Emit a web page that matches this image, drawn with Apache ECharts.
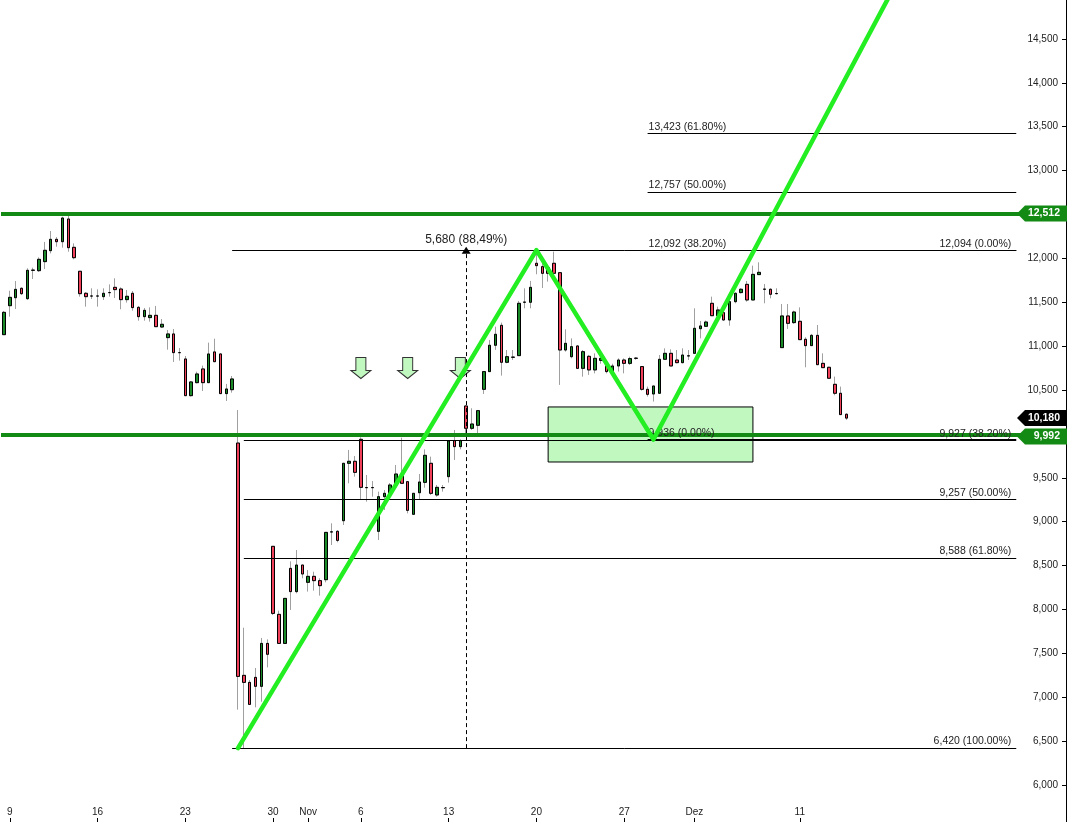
<!DOCTYPE html>
<html><head><meta charset="utf-8">
<script src="https://cdn.jsdelivr.net/npm/echarts@6/dist/echarts.min.js"></script>
<style>html,body{margin:0;padding:0;background:#fff}#c{width:1067px;height:822px}</style>
</head><body><div id="c"></div>
<script>
// ---- candle values (3 candles per trading day, first = last candle of Oct 6) ----
const openV = [11131,11461,11552,11659,11541,11864,11860,11963,12088,12217,12190,12449,12126,11853,11602,11571,11571,11564,11610,11670,
11651,11530,11602,11442,11336,11325,11351,11218,11097,11139,10926,10854,10436,10584,10740,10584,10934,10911,10459,10504,
9896,7249,7169,7226,7124,7613,8719,7944,7613,8468,8203,8506,8309,8377,8328,8339,8882,8890,9011,9665,
9688,9938,9387,9387,8890,9285,9323,9418,9520,9456,9084,9330,9448,9665,9304,9387,9513,9923,9855,10318,
10064,10098,10508,10710,11010,11237,10816,10873,10892,11500,11500,11944,11906,11894,11944,11837,10956,10880,11002,10747,
10884,10729,10838,10774,10705,10774,10842,10804,10861,10767,10508,10455,10463,10850,10918,10842,10812,10888,10918,11199,
11226,11488,11347,11382,11298,11507,11610,11704,11526,11815,11648,11648,11598,10983,11344,11268,11283,11078,11006,11123,
10804,10759,10565,10463,10224];
const highV = [11401,11632,11742,11670,11887,11894,12012,12187,12312,12243,12475,12487,12171,11853,11617,11659,11647,11659,11704,11773,
11670,11640,11628,11458,11435,11442,11458,11309,11184,11195,10979,10888,10603,10709,10778,11040,11085,10918,10569,10660,
10272,7792,7196,7333,7675,7659,8719,7986,8126,8548,8677,8506,8449,8430,8355,8878,8981,8905,9665,9817,
9748,9961,9532,9463,9342,9361,9440,9646,9957,9456,9323,9543,9824,9741,9418,9418,9919,10045,9938,10330,
10292,10273,10710,11070,11222,11268,10956,10956,11515,11659,11743,12094,11951,11905,12077,11837,11192,11089,11013,10956,
10900,10918,10900,10790,10800,10861,10861,10880,10875,10774,10539,10546,10899,10975,10964,10956,10975,10956,11431,11287,
11291,11564,11450,11390,11526,11613,11660,11742,11917,11955,11708,11659,11659,11480,11480,11404,11442,11101,11139,11241,
10918,10765,10653,10539,10235];
const lowV = [11131,11336,11423,11583,11526,11765,11845,11879,12057,12133,12122,12076,11989,11564,11450,11537,11450,11526,11564,11549,
11420,11496,11404,11290,11290,11279,11222,11207,10960,10820,10835,10436,10425,10576,10489,10584,10823,10459,10375,10470,
6858,6420,6918,6885,6949,7340,7936,7613,7613,7994,8184,8355,8203,8214,8157,8309,8734,8765,8962,9437,
9513,9247,9228,9285,8791,9133,9300,9391,9437,9095,9076,9254,9387,9304,9285,9342,9445,9703,9824,10007,
10045,10007,10455,10710,10957,10664,10805,10843,10892,11431,11431,11819,11662,11735,11792,10558,10937,10861,10747,10652,
10672,10690,10800,10690,10680,10710,10690,10785,10845,10493,10425,10368,10463,10850,10774,10804,10804,10842,10918,11089,
11222,11347,11336,11290,11233,11488,11600,11507,11526,11815,11488,11545,11590,10983,11196,11253,11074,10759,11006,10789,
10755,10626,10440,10220,10159];
const closeV = [11385,11556,11647,11598,11864,11866,11989,12092,12217,12190,12460,12122,12008,11598,11564,11571,11571,11602,11610,11644,
11530,11568,11439,11336,11408,11351,11222,11249,11139,10926,10926,10436,10592,10683,10584,10911,10823,10459,10512,10626,
7237,7169,6918,7124,7613,7489,7955,7613,8126,8203,8506,8404,8377,8328,8271,8878,8884,8787,9665,9688,
9562,9391,9389,9389,9285,9323,9418,9543,9437,9129,9323,9452,9756,9323,9391,9389,9919,9855,9923,10064,
10113,10265,10710,11010,11135,10816,10880,10875,11488,11502,11670,11917,11830,11830,11830,10956,11032,10994,10747,10937,
10729,10861,10861,10710,10774,10842,10804,10858,10863,10508,10451,10546,10850,10918,10774,10812,10899,10890,11203,11230,
11275,11347,11412,11298,11507,11602,11648,11526,11818,11841,11650,11591,11600,11344,11260,11389,11074,11006,11123,10789,
10755,10634,10463,10220,10180];

// ---- axes ----
const yTicks = [6000,6500,7000,7500,8000,8500,9000,9500,10000,10500,11000,11500,12000,12500,13000,13500,14000,14500];
const tickDates = ['2023-10-09','2023-10-16','2023-10-23','2023-10-30','2023-11-01','2023-11-06','2023-11-13','2023-11-20','2023-11-27','2023-12-01','2023-12-11'];
const tickLabels = ['9','16','23','30','Nov','6','13','20','27','Dez','11'];
const yMin = 5578, yMax = 14944;
const totalSlots = 182;

// ---- drawings ----
const supportLevels = [12512, 9992];
const lastPrice = 10180;
const fibAValues = [12094, 9927, 9257, 8588, 6420];
const fibAPct = ['0.00%', '38.20%', '50.00%', '61.80%', '100.00%'];
const fibAStart = [39, 41, 41, 41, 39];
const fibBValues = [9936, 12092, 12757, 13423];
const fibBPct = ['0.00%', '38.20%', '50.00%', '61.80%'];
const fibBStart = 110;
const fibEnd = 173;
const zigzagX = [40, 91, 111, 155];
const zigzagY = [6420, 12094, 9936, 15451];
const arrowX = [61, 69, 78];
const arrowY = 10751;
const boxX = [93, 128];
const boxY = [10307, 9680];
const measureX = 79;
const measureFrom = 6420, measureTo = 12094;
const measureLabel = '5,680 (88,49%)';

// ---- categories: trading days, 3 slots each ----
function fmtD(d){return d.toISOString().slice(0,10);}
const categories = [];
let d = new Date(Date.UTC(2023,9,6));
categories.push(fmtD(d)+'#3');
while (categories.length < totalSlots) {
  d = new Date(d.getTime()+86400000);
  const wd = d.getUTCDay();
  if (wd===0 || wd===6) continue;
  for (let s=1; s<=3 && categories.length<totalSlots; s++) categories.push(fmtD(d)+'#'+s);
}
function isTick(idx, val){
  const [dt, s] = String(val).split('#');
  return s==='1' && tickDates.indexOf(dt) >= 0;
}
function tickLabel(val){
  const [dt, s] = String(val).split('#');
  const k = tickDates.indexOf(dt);
  return (s==='1' && k>=0) ? tickLabels[k] : '';
}
const fmtN = v => Number(v).toLocaleString('en-US');
const FONT = '"Liberation Sans", Arial, sans-serif';

const wickData = openV.map((o,i)=>[o, closeV[i], lowV[i], highV[i]]);
const bodyData = openV.map((o,i)=>[o, closeV[i], Math.min(o,closeV[i]), Math.max(o,closeV[i])]);

const fibLines = [];
fibAValues.forEach((v,i)=>{
  fibLines.push([
    {coord:[fibAStart[i], v], label:{show:true, position:'insideEndTop', distance:[5,1], formatter: fmtN(v)+' ('+fibAPct[i]+')'}},
    {coord:[fibEnd, v]}
  ]);
});
fibBValues.forEach((v,i)=>{
  fibLines.push([
    {coord:[fibBStart, v], label:{show:true, position:'insideStartTop', distance:[1,1], formatter: fmtN(v)+' ('+fibBPct[i]+')'}},
    {coord:[fibEnd, v]}
  ]);
});
fibLines.push([
  {coord:[measureX, measureFrom], symbol:'none', lineStyle:{type:[4,3], color:'#000', width:1},
   label:{show:true, position:'end', formatter: measureLabel, fontSize:12, distance:4}},
  {coord:[measureX, measureTo], symbol:'triangle', symbolSize:[9,7]}
]);

const tagVals = [supportLevels[0], lastPrice, supportLevels[1]];
const tagCols = ['#138a13', '#000000', '#138a13'];
const tagShift = [0, 0, 2];

const chart = echarts.init(document.getElementById('c'), null, {renderer:'canvas'});
chart.setOption({
  animation:false,
  backgroundColor:'#ffffff',
  grid:{left:1, right:1, top:0, bottom:0, containLabel:false},
  xAxis:{
    type:'category', data:categories, boundaryGap:true,
    axisLine:{show:false},
    axisTick:{show:true, inside:true, length:4, alignWithLabel:true, interval:isTick, lineStyle:{color:'#000'}},
    axisLabel:{inside:true, margin:5, interval:isTick, formatter:tickLabel, color:'#222', fontSize:10, fontFamily:FONT},
    splitLine:{show:false}
  },
  yAxis:{
    type:'value', position:'right', min:yMin, max:yMax,
    axisLine:{show:true, lineStyle:{color:'#000', width:1}},
    axisTick:{show:true, inside:true, length:4, customValues:yTicks, lineStyle:{color:'#000'}},
    axisLabel:{inside:true, margin:8, customValues:yTicks, formatter:fmtN, color:'#222', fontSize:10, fontFamily:FONT},
    splitLine:{show:false}
  },
  series:[
    {
      type:'candlestick', name:'wick', data:wickData, barWidth:3, z:2, silent:true,
      itemStyle:{color:'#a0a0a0', color0:'#a0a0a0', borderColor:'#a0a0a0', borderColor0:'#a0a0a0', borderWidth:1},
      markArea:{silent:true, itemStyle:{color:'#c0f8c0', borderColor:'#000', borderWidth:1, opacity:1},
        data:[[{coord:[boxX[0], boxY[0]]},{coord:[boxX[1], boxY[1]]}]]}
    },
    {
      type:'candlestick', name:'body', data:bodyData, barWidth:3, z:3, silent:true,
      itemStyle:{color:'#1a8a28', color0:'#f0405a', borderColor:'#000', borderColor0:'#000', borderWidth:1}
    },
    {
      type:'scatter', name:'arrows', z:4, silent:true,
      data: arrowX.map(x=>[x, arrowY]),
      symbol:'path://M5,0 L15,0 L15,13 L20,13 L10,21 L0,13 L5,13 Z', symbolSize:[20,21],
      itemStyle:{color:'#c0f8c0', borderColor:'#333', borderWidth:1, opacity:1},
      markLine:{silent:true, symbol:['none','none'], lineStyle:{color:'#000', width:1, type:'solid'},
        label:{color:'#222', fontSize:10.5, fontFamily:FONT},
        emphasis:{disabled:true},
        data: fibLines}
    },
    {
      type:'line', name:'levels', data:[], z:5, silent:true,
      markLine:{silent:true, symbol:['none','none'], label:{show:false},
        lineStyle:{color:'#138a13', width:4, type:'solid'},
        data: supportLevels.map(v=>({yAxis:v}))}
    },
    {
      type:'line', name:'zigzag', z:6, silent:true, showSymbol:false, symbol:'none',
      data: zigzagX.map((x,i)=>[x, zigzagY[i]]),
      lineStyle:{color:'#22ee22', width:4.5, cap:'round', join:'round'}
    },
    {
      type:'custom', name:'tags', z:20, clip:false, silent:true,
      data: tagVals.map(v=>[0, v]),
      renderItem:(params, api)=>{
        const y = api.coord([0, api.value(1)])[1] + tagShift[params.dataIndex];
        const cs = params.coordSys;
        const r = cs.x + cs.width + 1;
        const l = r - 50, h = 8;
        return {type:'group', children:[
          {type:'polygon', shape:{points:[[l,y],[l+8,y-h],[r,y-h],[r,y+h],[l+8,y+h]]}, style:{fill:tagCols[params.dataIndex]}},
          {type:'text', style:{text:fmtN(api.value(1)), x:r-7, y:y, align:'right', verticalAlign:'middle', fill:'#fff', font:'bold 10.5px '+FONT}}
        ]};
      }
    }
  ]
});
</script></body></html>
